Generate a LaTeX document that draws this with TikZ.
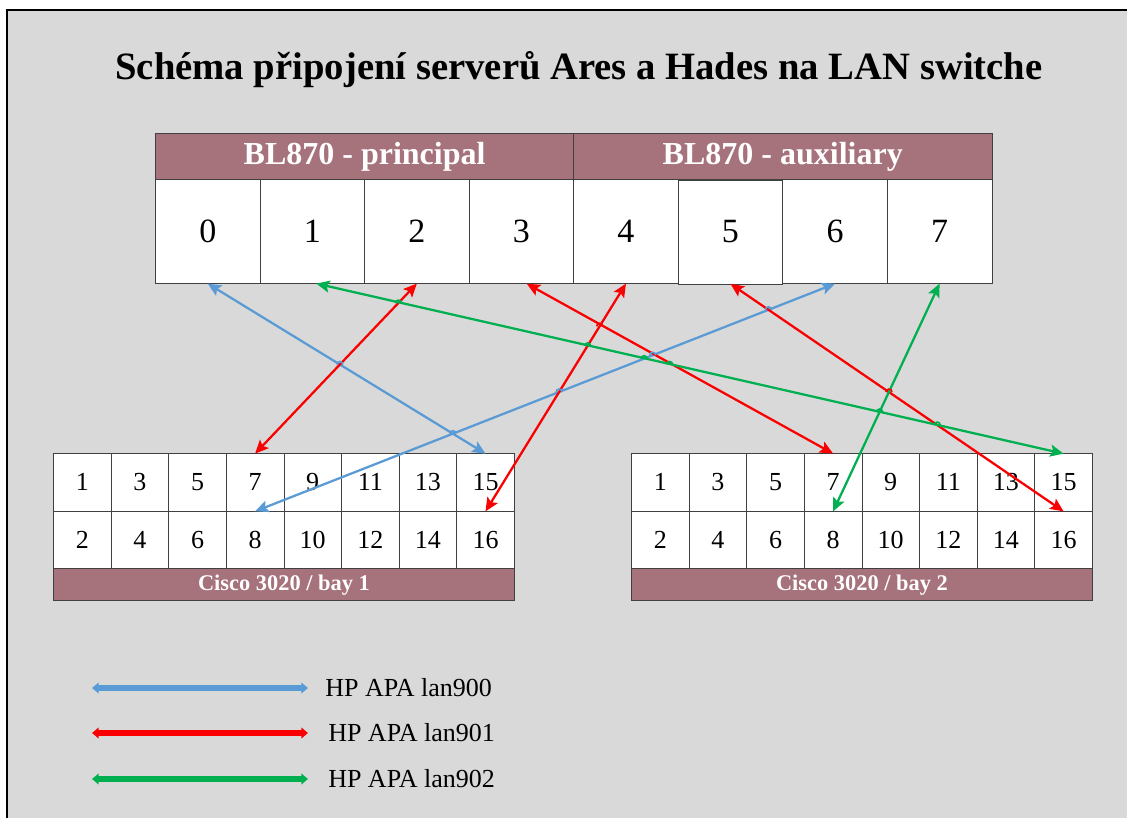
\documentclass[tikz,border=0pt]{standalone}
\usepackage{fontspec}
\setmainfont{Liberation Serif}
\usetikzlibrary{arrows.meta,matrix,positioning}
\definecolor{panel}{RGB}{217,217,217}
\definecolor{mauve}{RGB}{166,114,124}
\definecolor{edge}{RGB}{64,64,64}
\definecolor{lanblue}{RGB}{91,155,213}
\definecolor{lanred}{RGB}{250,0,0}
\definecolor{langreen}{RGB}{0,176,80}

\begin{document}
\begin{tikzpicture}[x=0.75pt,y=-0.75pt,
bigcell/.style={draw=edge,fill=white,minimum width=78.4pt,minimum height=78pt,
  inner sep=0pt,outer sep=0pt,font=\fontsize{25.5}{30}\selectfont},
portcell/.style={draw=edge,fill=white,minimum width=43.2pt,minimum height=43.1pt,
  inner sep=0pt,outer sep=0pt,font=\fontsize{19.5}{23}\selectfont},
head/.style={draw=edge,fill=mauve,text=white,minimum width=313.6pt,minimum height=34.5pt,
  inner sep=0pt,outer sep=0pt,font=\fontsize{24}{28}\selectfont\bfseries},
foot/.style={draw=edge,fill=mauve,text=white,minimum width=345.6pt,minimum height=24pt,
  inner sep=0pt,outer sep=0pt,font=\fontsize{16.8}{20}\selectfont\bfseries},
ports/.style={matrix of nodes,inner sep=0pt,column sep=-0.4pt,row sep=-0.4pt,anchor=north west},
link/.style={line width=1.7pt,{Stealth[length=10pt,width=9pt,inset=2pt]}-{Stealth[length=10pt,width=9pt,inset=2pt]}},
lan900/.style={link,lanblue},
lan901/.style={link,lanred},
lan902/.style={link,langreen},
jump/.style={line width=1.2pt},
hop/.pic={\draw (-3,0) arc[start angle=180,end angle=360,radius=3];},
key/.style={line width=3.8pt,{Triangle[length=5pt,width=8pt]}-{Triangle[length=5pt,width=8pt]}},
legend/.style={anchor=west,inner sep=0pt,font=\fontsize{19.5}{23}\selectfont}]
\useasboundingbox (0,0) rectangle (1127,818);
\fill[white] (0,0) rectangle (1127,818);
\fill[panel] (7,10) rectangle (1127,818);
\draw[black,line width=0.9pt] (7,818) -- (7,10) -- (1127,10);

\node[font=\fontsize{29}{34}\selectfont\bfseries] (title) at (579,70)
  {Schéma připojení serverů Ares a Hades na LAN switche};

% server ports
\matrix (bl) [ports,nodes={bigcell}] at (155,179)
{
0 & 1 & 2 & 3 & 4 & 5 & 6 & 7 \\
};
\node[head,anchor=south west] (prin) at (bl-1-1.north west) {BL870 - principal};
\node[head,anchor=south west] (aux) at (bl-1-5.north west) {BL870 - auxiliary};

% switch bays
\matrix (sa) [ports,nodes={portcell}] at (53,453)
{
1 & 3 & 5 & 7 & 9  & 11 & 13 & 15 \\
2 & 4 & 6 & 8 & 10 & 12 & 14 & 16 \\
};
\node[foot,anchor=north west] (fa) at (sa-2-1.south west) {Cisco 3020 / bay 1};

\matrix (sb) [ports,nodes={portcell}] at (631,453)
{
1 & 3 & 5 & 7 & 9  & 11 & 13 & 15 \\
2 & 4 & 6 & 8 & 10 & 12 & 14 & 16 \\
};
\node[foot,anchor=north west] (fb) at (sb-2-1.south west) {Cisco 3020 / bay 2};

% links
\draw[lan900] (bl-1-1.south) -- (sa-1-8.north);
\draw[lan900] (bl-1-7.south) -- (sa-2-4.north);
\draw[lan901] (bl-1-3.south) -- (sa-1-4.north);
\draw[lan901] (bl-1-5.south) -- (sa-2-8.north);
\draw[lan901] ([xshift=4pt]bl-1-4.south) -- (sb-1-4.north);
\draw[lan901] (bl-1-6.south) -- (sb-2-8.north);
\draw[lan902] ([xshift=3pt]bl-1-2.south) -- (sb-1-8.north);
\draw[lan902] (bl-1-8.south) -- (sb-2-4.north);

% line jumps
\pic[jump,langreen] at (intersection of bl-1-2.south--sb-1-8.north and bl-1-3.south--sa-1-4.north) {hop};
\pic[jump,lanblue] at (intersection of bl-1-1.south--sa-1-8.north and bl-1-3.south--sa-1-4.north) {hop};
\pic[jump,lanred] at (intersection of bl-1-4.south--sb-1-4.north and bl-1-5.south--sa-2-8.north) {hop};
\pic[jump,langreen] at (intersection of bl-1-2.south--sb-1-8.north and bl-1-5.south--sa-2-8.north) {hop};
\pic[jump,lanblue] at (intersection of bl-1-7.south--sa-2-4.north and bl-1-4.south--sb-1-4.north) {hop};
\pic[jump,langreen] at (intersection of bl-1-2.south--sb-1-8.north and bl-1-7.south--sa-2-4.north) {hop};
\pic[jump,langreen] at (intersection of bl-1-2.south--sb-1-8.north and bl-1-4.south--sb-1-4.north) {hop};
\pic[jump,lanblue] at (intersection of bl-1-7.south--sa-2-4.north and bl-1-5.south--sa-2-8.north) {hop};
\pic[jump,lanblue] at (intersection of bl-1-7.south--sa-2-4.north and bl-1-1.south--sa-1-8.north) {hop};
\pic[jump,lanblue] at (intersection of bl-1-7.south--sa-2-4.north and bl-1-6.south--sb-2-8.north) {hop};
\pic[jump,lanred] at (intersection of bl-1-6.south--sb-2-8.north and bl-1-8.south--sb-2-4.north) {hop};
\pic[jump,langreen] at (intersection of bl-1-2.south--sb-1-8.north and bl-1-8.south--sb-2-4.north) {hop};
\pic[jump,langreen] at (intersection of bl-1-2.south--sb-1-8.north and bl-1-6.south--sb-2-8.north) {hop};

% legend
\node[legend] (k900) at (325,688) {HP APA lan900};
\node[legend] (k901) at (328,733) {HP APA lan901};
\node[legend] (k902) at (328,779) {HP APA lan902};
\coordinate (s900) at (92,688);
\coordinate (s901) at (92,733);
\coordinate (s902) at (92,779);
\draw[key,lanblue] (s900) -- ([xshift=-12.75pt]k900.west);
\draw[key,lanred] (s901) -- ([xshift=-15pt]k901.west);
\draw[key,langreen] (s902) -- ([xshift=-15pt]k902.west);
\end{tikzpicture}
\end{document}
